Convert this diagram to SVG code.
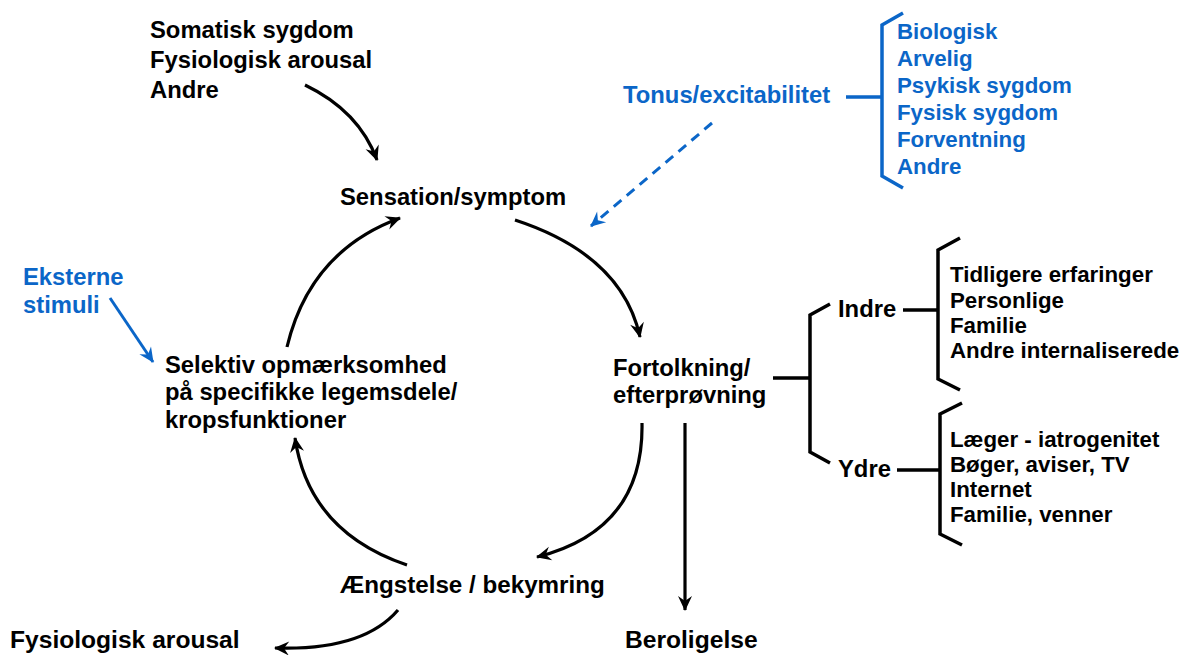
<svg xmlns="http://www.w3.org/2000/svg" width="1184" height="655" viewBox="0 0 1184 655">
<defs>
<style>
text{font-family:"Liberation Sans",Arial,sans-serif;font-weight:bold;font-size:23.8px;fill:#000}
.b{fill:#0B66C8}
.s{font-size:22.3px}
.l{font-size:24.6px}
.c{fill:none;stroke:#000;stroke-width:3.2}
.br{fill:none;stroke:#000;stroke-width:3.5}
.bb{fill:none;stroke:#0B66C8;stroke-width:3.5}
</style>
<marker id="ak" markerUnits="userSpaceOnUse" viewBox="-16 -8 18 16" refX="0" refY="0" markerWidth="18" markerHeight="16" orient="auto">
<path d="M1,0 L-14,-7 L-9,0 L-14,7 z" fill="#000"/>
</marker>
<marker id="ab" markerUnits="userSpaceOnUse" viewBox="-16 -8 18 16" refX="0" refY="0" markerWidth="18" markerHeight="16" orient="auto">
<path d="M1,0 L-14,-7 L-9,0 L-14,7 z" fill="#0B66C8"/>
</marker>
</defs>
<rect width="1184" height="655" fill="#fff"/>

<g id="somatisk">
<text x="150" y="38">Somatisk sygdom</text>
<text x="150" y="68">Fysiologisk arousal</text>
<text x="150" y="98">Andre</text>
</g>
<g id="sensation"><text x="340" y="205">Sensation/symptom</text></g>
<g id="tonus">
<text class="b" x="623" y="103">Tonus/excitabilitet</text>
<path class="bb" d="M846,97 H882 M903,13 L882,25 V176 L903,188"/>
<text class="b s" x="897" y="39">Biologisk</text>
<text class="b s" x="897" y="66">Arvelig</text>
<text class="b s" x="897" y="93">Psykisk sygdom</text>
<text class="b s" x="897" y="120">Fysisk sygdom</text>
<text class="b s" x="897" y="147">Forventning</text>
<text class="b s" x="897" y="174">Andre</text>
</g>
<g id="eksterne">
<text class="b" x="23" y="285">Eksterne</text>
<text class="b" x="23" y="313">stimuli</text>
</g>
<g id="selektiv">
<text x="165" y="373">Selektiv opmærksomhed</text>
<text x="165" y="400">på specifikke legemsdele/</text>
<text x="165" y="428">kropsfunktioner</text>
</g>
<g id="fortolkning">
<text x="613" y="376">Fortolkning/</text>
<text x="613" y="403">efterprøvning</text>
</g>
<g id="indre">
<text x="838" y="317">Indre</text>
<text class="s" x="950" y="282">Tidligere erfaringer</text>
<text class="s" x="950" y="308">Personlige</text>
<text class="s" x="950" y="333">Familie</text>
<text class="s" x="950" y="358">Andre internaliserede</text>
</g>
<g id="ydre">
<text x="838" y="477">Ydre</text>
<text class="s" x="950" y="447">Læger - iatrogenitet</text>
<text class="s" x="950" y="472">Bøger, aviser, TV</text>
<text class="s" x="950" y="497">Internet</text>
<text class="s" x="950" y="522">Familie, venner</text>
</g>
<g id="aengstelse"><text x="340" y="593" style="font-size:24.2px">Ængstelse / bekymring</text></g>
<g id="beroligelse"><text class="l" x="625" y="648">Beroligelse</text></g>
<g id="fysiologisk"><text class="l" x="10" y="648">Fysiologisk arousal</text></g>

<g id="connectors">
<path class="c" d="M305,85 Q359,111 377,160" marker-end="url(#ak)"/>
<path class="c" d="M287,347 Q310,251 400,218" marker-end="url(#ak)"/>
<path class="c" d="M515,220 Q622,255 640,337" marker-end="url(#ak)"/>
<path class="c" d="M642,423 Q644,530 537,557" marker-end="url(#ak)"/>
<path class="c" d="M407,565 Q309,532 295,438" marker-end="url(#ak)"/>
<path class="c" d="M398,610 Q363,651 275,648" marker-end="url(#ak)"/>
<path class="c" d="M685,423 V610" marker-end="url(#ak)"/>
<path fill="none" stroke="#0B66C8" stroke-width="3" stroke-dasharray="10,7" d="M712,123 L591,226" marker-end="url(#ab)"/>
<path fill="none" stroke="#0B66C8" stroke-width="3" d="M110,298 L153,362" marker-end="url(#ab)"/>
<path class="br" d="M773,378 H810 M830,304 L810,315 V452 L830,463"/>
<path class="br" d="M903,310 H938 M960,238 L938,250 V379 L960,390"/>
<path class="br" d="M897,470 H940 M962,403 L940,414 V534 L962,545"/>
</g>
</svg>
